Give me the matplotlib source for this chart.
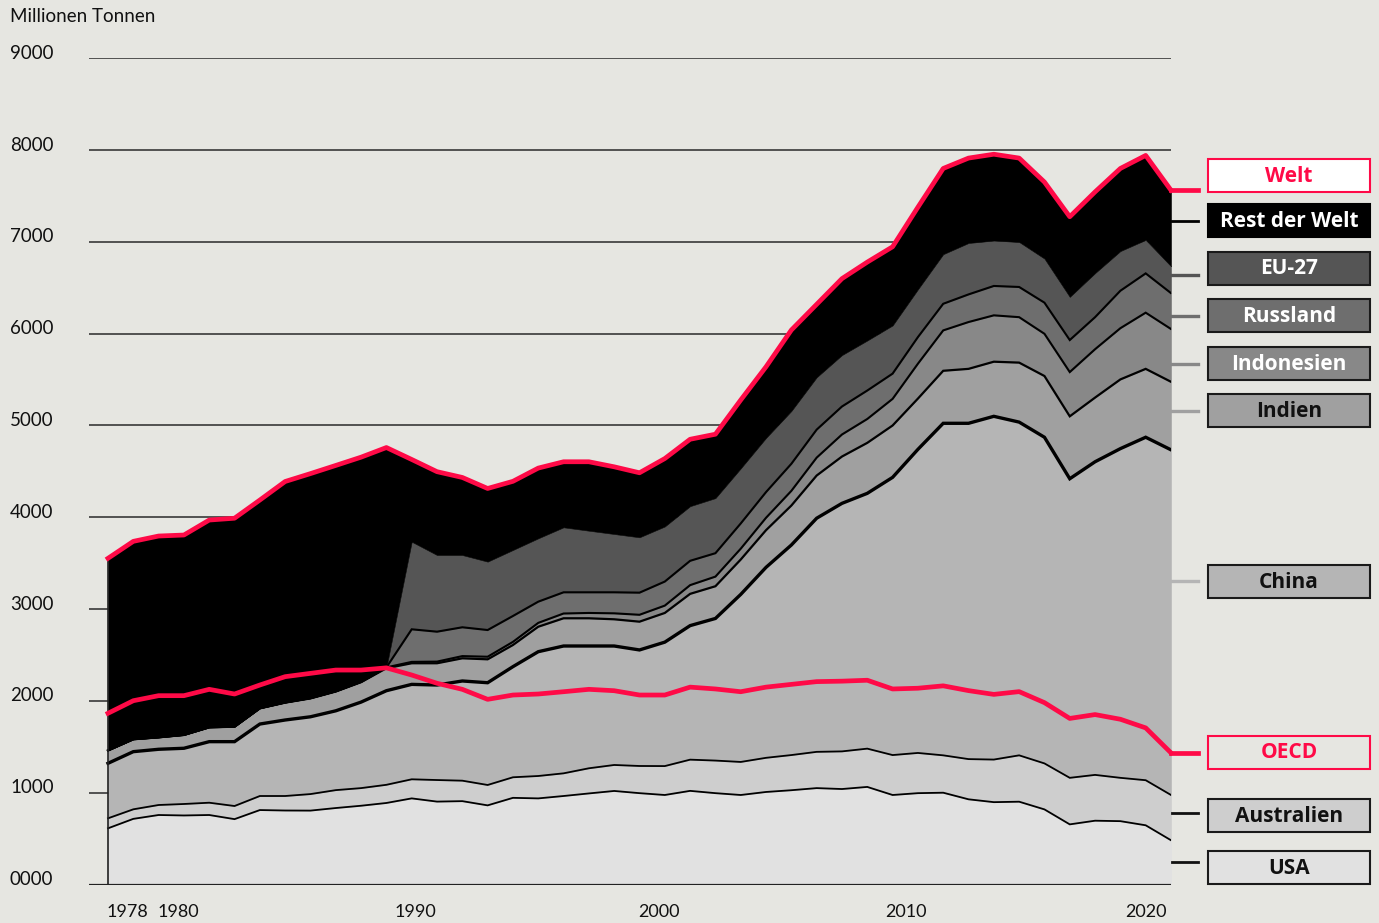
import numpy as np
import matplotlib
matplotlib.use("Agg")
import matplotlib.pyplot as plt
from matplotlib.patches import Rectangle
from matplotlib.lines import Line2D
import matplotlib.transforms as mtransforms

plt.rcParams['font.family'] = ['Lato', 'DejaVu Sans']

# ---------------- data (Millionen Tonnen) ----------------
years = list(range(1978, 2021))

usa = [612, 715, 757, 752, 757, 712, 811, 806, 805, 833,
       858, 888, 938, 903, 908, 862, 944, 938, 964, 992,
       1019, 995, 975, 1020, 995, 975, 1008, 1027, 1050, 1040,
       1063, 975, 995, 1000, 928, 897, 902, 818, 655, 695,
       690, 645, 482]
australien = [109, 104, 109, 125, 134, 143, 153, 158, 180, 195,
              192, 198, 208, 235, 223, 222, 224, 244, 247, 274,
              283, 296, 315, 340, 355, 360, 372, 383, 395, 410,
              417, 435, 438, 407, 438, 464, 505, 501, 507, 499,
              472, 491, 493]
china = [599, 628, 607, 607, 665, 701, 784, 828, 842, 864,
         937, 1025, 1034, 1035, 1086, 1114, 1205, 1354, 1387, 1332,
         1296, 1264, 1350, 1460, 1548, 1825, 2075, 2288, 2545, 2702,
         2781, 3025, 3307, 3617, 3658, 3739, 3630, 3553, 3258, 3411,
         3586, 3736, 3760]
indien = [140, 135, 130, 145, 156, 163, 171, 189, 200, 210,
          217, 245, 230, 237, 247, 255, 236, 272, 302, 302,
          291, 308, 318, 346, 351, 380, 405, 430, 465, 510,
          550, 565, 553, 572, 593, 595, 648, 667, 680, 699,
          754, 745, 741]
indonesien = [0.3, 0.3, 0.3, 0.4, 0.5, 0.5, 1, 2, 3, 3,
              4, 9, 15, 18, 24, 28, 34, 42, 52, 58,
              65, 75, 80, 95, 105, 118, 135, 160, 195, 240,
              260, 290, 380, 440, 510, 505, 495, 460, 482, 527,
              558, 612, 575]
russland = [0, 0, 0, 0, 0, 0, 0, 0, 0, 0,
            0, 0, 355, 326, 314, 291, 282, 231, 231, 225,
            229, 241, 262, 265, 255, 275, 280, 295, 305, 305,
            310, 275, 290, 290, 301, 320, 329, 339, 349, 349,
            408, 428, 391]
eu27 = [0, 0, 0, 0, 0, 0, 0, 0, 0, 0,
        0, 0, 954, 835, 787, 745, 719, 690, 708, 671,
        635, 603, 600, 595, 600, 600, 590, 575, 570, 560,
        545, 525, 520, 540, 560, 495, 490, 480, 470, 480,
        432, 365, 293]
welt = [3553, 3738, 3796, 3807, 3970, 3990, 4188, 4390, 4476, 4565,
        4655, 4760, 4630, 4497, 4434, 4314, 4392, 4536, 4605, 4605,
        4550, 4485, 4640, 4850, 4905, 5278, 5640, 6040, 6320, 6600,
        6780, 6947, 7378, 7800, 7913, 7955, 7913, 7652, 7274, 7545,
        7800, 7942, 7563]
oecd = [1865, 2002, 2057, 2057, 2126, 2075, 2173, 2264, 2300, 2336,
        2336, 2360, 2282, 2192, 2126, 2017, 2064, 2075, 2100, 2126,
        2111, 2064, 2064, 2150, 2130, 2100, 2150, 2180, 2210, 2215,
        2225, 2130, 2138, 2164, 2112, 2071, 2101, 1981, 1809, 1851,
        1800, 1706, 1434]

y_ticks = [0, 1000, 2000, 3000, 4000, 5000, 6000, 7000, 8000, 9000]
y_labels = ["0000", "1000", "2000", "3000", "4000", "5000", "6000", "7000", "8000", "9000"]
x_ticks = [1978, 1980, 1990, 2000, 2010, 2020]
x_labels = ["1978", "1980", "1990", "2000", "2010", "2020"]

# ---------------- styling ----------------
BG = '#e6e6e1'
RED = '#ff0a47'
layer_colors = ['#e1e1e1', '#cecece', '#b5b5b5', '#a0a0a0', '#888888', '#6e6e6e', '#555555', '#000000']
LEGEND_FONT = ['Open Sans', 'DejaVu Sans']

W, H = 1379, 923
def fx(px): return px / W
def fy(py): return 1 - py / H

fig = plt.figure(figsize=(W / 100, H / 100), dpi=100, facecolor=BG)
ax = fig.add_axes([fx(89), fy(884.5), fx(1171) - fx(89), fy(58.3) - fy(884.5)])
ax.set_facecolor(BG)
ax.set_xlim(1977.25, 2020)
ax.set_ylim(0, 9000)
for s in ax.spines.values():
    s.set_visible(False)
ax.set_xticks([])
ax.set_yticks([])

for v in y_ticks[1:]:
    ax.axhline(v, color='#2a2a2a', lw=1.1, zorder=0)

others = np.array([usa, australien, china, indien, indonesien, russland, eu27], dtype=float)
rest = np.array(welt, dtype=float) - others.sum(axis=0)
layers = list(others) + [rest]

ax.stackplot(years, *layers, colors=layer_colors, edgecolor='face', linewidth=0.4, zorder=2)

cum = np.cumsum(np.array(layers), axis=0)
line_specs = [(0, 1.3), (1, 1.3), (2, 2.4), (3, 1.6), (4, 1.5), (5, 1.5)]
for idx, lw in line_specs:
    ax.plot(years, cum[idx], color='#000000', lw=lw, zorder=4, solid_joinstyle='miter')

ax.plot([1978, 1978], [0, welt[0]], color='#222222', lw=1.2, zorder=4)
ax.axhline(0, color='#222222', lw=1.6, zorder=7)

ax.plot(years, welt, color=RED, lw=3.4, zorder=8, solid_joinstyle='round', clip_on=False)
ax.plot(years, oecd, color=RED, lw=3.4, zorder=8, solid_joinstyle='round', clip_on=False)

# ---------------- axis labels ----------------
ylab_tr = mtransforms.blended_transform_factory(fig.transFigure, ax.transData)
for v, lab in zip(y_ticks, y_labels):
    ax.text(fx(10), v, lab, transform=ylab_tr + mtransforms.ScaledTranslation(0, 0.05, fig.dpi_scale_trans),
            ha='left', va='center', fontsize=13.5, color='#111111')
fig.text(fx(10), fy(16), "Millionen Tonnen", ha='left', va='center', fontsize=13.5, color='#111111')

xlab_tr = mtransforms.blended_transform_factory(ax.transData, fig.transFigure)
x_align = ['left', 'left', 'center', 'center', 'center', 'right']
x_shift = [-1, -1, 4, -6, -12, -4]
for xv, lab, ha, sh in zip(x_ticks, x_labels, x_align, x_shift):
    ax.text(xv, fy(912), lab, transform=xlab_tr + mtransforms.ScaledTranslation(sh / 100, 0, fig.dpi_scale_trans),
            ha=ha, va='center', fontsize=13, color='#111111')

# ---------------- legend boxes ----------------
legend = [
    ("Welt", 175.5, '#ffffff', RED, RED, RED, 'welt'),
    ("Rest der Welt", 220.5, '#000000', '#ffffff', '#000000', '#000000', 220.5),
    ("EU-27", 268, '#555555', '#ffffff', '#1a1a1a', '#555555', 274.5),
    ("Russland", 315.5, '#6e6e6e', '#ffffff', '#1a1a1a', '#6e6e6e', 315.5),
    ("Indonesien", 363.5, '#888888', '#ffffff', '#1a1a1a', '#888888', 363.5),
    ("Indien", 410.5, '#a0a0a0', '#111111', '#1a1a1a', '#a0a0a0', 411),
    ("China", 581.5, '#b5b5b5', '#111111', '#1a1a1a', '#b5b5b5', 581),
    ("OECD", 752, BG, RED, RED, RED, 'oecd'),
    ("Australien", 815, '#cecece', '#111111', '#1a1a1a', '#111111', 812.5),
    ("USA", 867.5, '#e1e1e1', '#111111', '#1a1a1a', '#111111', 862.3),
]
bx0, bx1, bh = 1208, 1370, 33
conn_tr = mtransforms.blended_transform_factory(fig.transFigure, ax.transData)
for name, cy, fc, tc, ec, lc, ly in legend:
    fig.patches.append(Rectangle((fx(bx0), fy(cy + bh / 2)), fx(bx1) - fx(bx0), bh / H,
                                 transform=fig.transFigure, facecolor=fc, edgecolor=ec, lw=1.5))
    fig.text(fx((bx0 + bx1) / 2), fy(cy + 1), name, ha='center', va='center', fontsize=15,
             fontweight='bold', color=tc, family=LEGEND_FONT)
    if ly == 'welt':
        fig.add_artist(Line2D([fx(1171), fx(1198)], [welt[-1], welt[-1]], transform=conn_tr,
                              color=lc, lw=3.4))
    elif ly == 'oecd':
        fig.add_artist(Line2D([fx(1171), fx(1198)], [oecd[-1], oecd[-1]], transform=conn_tr,
                              color=lc, lw=3.4))
    else:
        lw = 2.0 if lc in ('#000000', '#111111') else 2.4
        fig.add_artist(Line2D([fx(1172), fx(1198)], [fy(ly), fy(ly)], transform=fig.transFigure,
                              color=lc, lw=lw))

fig.savefig("out.png", dpi=100, facecolor=BG)
